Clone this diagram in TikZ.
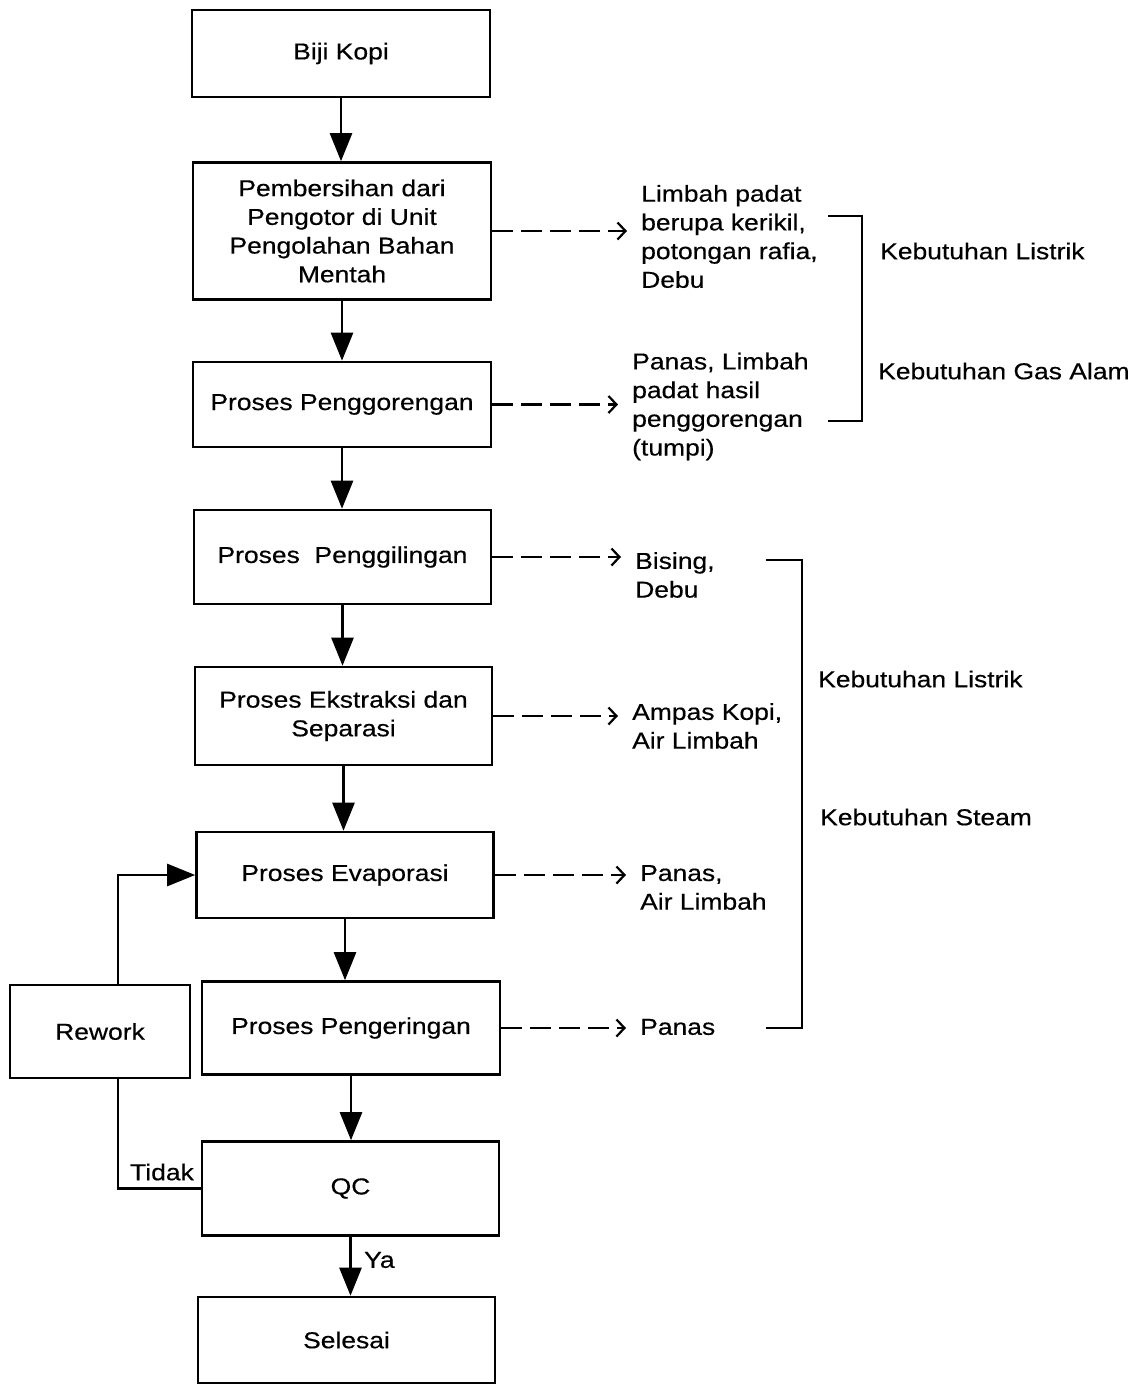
\documentclass[tikz,border=0pt]{standalone}
\usepackage{fontspec}
\setmainfont[FakeStretch=1.15,FakeBold=0.4]{Liberation Sans}
\usetikzlibrary{arrows.meta}
\begin{document}
\begin{tikzpicture}[x=1pt,y=-1pt,
  txt/.style={font=\fontsize{23}{28.7}\selectfont},
  box/.style={txt,draw,line width=2.6pt,align=center,inner sep=0pt},
  outtext/.style={txt,align=left,anchor=west,inner xsep=14pt,inner ysep=0pt},
  need/.style={txt,anchor=west,inner sep=0pt},
  flow/.style={line width=2.6pt,-{Triangle[length=28pt,width=22pt]}},
  outflow/.style={line width=2.5pt,dash pattern=on 21pt off 8pt,-{Straight Barb[length=8pt,width=17pt,line width=2.2pt]}},
  brace/.style={line width=2.2pt}]
\useasboundingbox[fill=white] (0,0) rectangle (1141,1387);

% main boxes
\node[box,minimum width=298pt,minimum height=87pt]  (biji)    at (341,53.5)  {Biji Kopi};
\node[box,minimum width=298pt,minimum height=137pt] (pemb)    at (342,231)   {Pembersihan dari\\Pengotor di Unit\\Pengolahan Bahan\\Mentah};
\node[box,minimum width=298pt,minimum height=85pt]  (goreng)  at (342,404.5) {Proses Penggorengan};
\node[box,minimum width=297pt,minimum height=94pt]  (giling)  at (342.5,557) {Proses\ \ Penggilingan};
\node[box,minimum width=297pt,minimum height=98pt]  (ekstr)   at (343.5,716) {Proses Ekstraksi dan\\Separasi};
\node[box,minimum width=297pt,minimum height=86pt]  (evap)    at (345,875)   {Proses Evaporasi};
\node[box,minimum width=298pt,minimum height=93pt]  (kering)  at (351,1028)  {Proses Pengeringan};
\node[box,minimum width=297pt,minimum height=94pt]  (qc)      at (350.5,1188.5) {QC};
\node[box,minimum width=297pt,minimum height=86pt]  (selesai) at (346.5,1340) {Selesai};
\node[box,minimum width=180pt,minimum height=93pt]  (rework)  at (100,1031.5) {Rework};

% main flow (vertical)
\draw[flow] (biji.south)   -- (biji.south |- pemb.north);
\draw[flow] (pemb.south)   -- (pemb.south |- goreng.north);
\draw[flow] (goreng.south) -- (goreng.south |- giling.north);
\draw[flow] (giling.south) -- (giling.south |- ekstr.north);
\draw[flow] (ekstr.south)  -- (ekstr.south |- evap.north);
\draw[flow] (evap.south)   -- (evap.south |- kering.north);
\draw[flow] (kering.south) -- (kering.south |- qc.north);
\draw[flow] (qc.south)     -- (qc.south |- selesai.north);
\node[txt,anchor=west,inner sep=0pt] (ya) at (364,1260) {Ya};

% rework loop
\coordinate (fbx) at (118,0);
\draw[line width=2.6pt] (qc.west) -- (qc.west -| fbx) -- (rework.south -| fbx);
\draw[flow] (rework.north -| fbx) |- (evap.west);
\node[txt,inner sep=0pt] (tidak) at (162,1172) {Tidak};

% outputs
\node[outtext] (o1) at (627,236.5) {Limbah padat\\berupa kerikil,\\potongan rafia,\\Debu};
\node[outtext] (o2) at (618,406.5) {Panas, Limbah\\padat hasil\\penggorengan\\(tumpi)};
\node[outtext] (o3) at (621,575)   {Bising,\\Debu};
\node[outtext] (o4) at (618,726)   {Ampas Kopi,\\Air Limbah};
\node[outtext] (o5) at (626,887.5) {Panas,\\Air Limbah};
\node[outtext] (o6) at (626,1027)  {Panas};

\draw[outflow] (pemb.east)   -- (pemb.east -| o1.west);
\draw[outflow] (goreng.east) -- (goreng.east -| o2.west);
\draw[outflow] (giling.east) -- (giling.east -| o3.west);
\draw[outflow] (ekstr.east)  -- (ekstr.east -| o4.west);
\draw[outflow] (evap.east)   -- (evap.east -| o5.west);
\draw[outflow] (kering.east) -- (kering.east -| o6.west);

% brackets
\draw[brace] (828,216) -- (862,216) -- (862,421) -- (828,421);
\draw[brace] (766,560) -- (802,560) -- (802,1028) -- (766,1028);

\node[need] (n1) at (880,251) {Kebutuhan Listrik};
\node[need] (n2) at (878,371) {Kebutuhan Gas Alam};
\node[need] (n3) at (818,679) {Kebutuhan Listrik};
\node[need] (n4) at (820,817) {Kebutuhan Steam};
\end{tikzpicture}
\end{document}
